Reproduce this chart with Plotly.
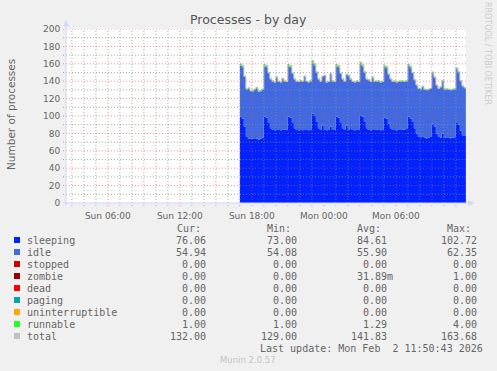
import plotly.graph_objects as go
import pandas as pd

# ---------------- data (10-minute samples, Sun 17:00 -> Mon 11:50) ----------------
times = pd.date_range("2026-02-01 17:00", periods=114, freq="10min")

sleeping = [
    99, 97, 88, 76, 74, 73.5,          # 17h
    74, 74.5, 74, 73, 74, 75,          # 18h
    99, 98, 92, 86, 84, 83.5,          # 19h
    84, 84, 83.5, 84, 84.5, 84,        # 20h
    99, 98, 92, 86, 84, 83.5,          # 21h
    84, 83.5, 84, 84, 83.5, 84,        # 22h
    102.72, 100, 93, 86, 84, 89,       # 23h
    84, 83.5, 84, 88, 84, 84,          # 00h
    99, 98, 92, 86, 84, 89,            # 01h
    84, 86, 84, 83.5, 84, 84,          # 02h
    101, 99, 93, 86, 84, 83.5,         # 03h
    84, 84, 84.5, 84, 83.5, 84,        # 04h
    98, 97, 91, 86, 84, 84,            # 05h
    83.5, 84, 84, 84.5, 84, 85,        # 06h
    99.5, 97, 93, 86, 80, 76,          # 07h
    75.5, 76, 75, 74.5, 75, 76,        # 08h
    91.5, 88, 80, 76, 75, 80,          # 09h
    75, 75.5, 75, 74.5, 75, 75.5,      # 10h
    92, 90, 83, 78, 77, 76.06,         # 11h
]
idle = [
    59, 59, 57, 54.5, 57.5, 55,
    54.1, 55.5, 58, 55, 54.5, 55,
    58, 58, 57, 56, 55.5, 55,
    60, 55, 55, 58.5, 55, 55,
    58, 58, 56.5, 56, 55, 55.5,
    56, 55.5, 61, 55, 55, 56,
    56.96, 58, 57, 56, 55, 56,
    62, 55, 55, 60, 55.5, 55,
    58, 58, 56.5, 56, 55, 58,
    62, 56, 55, 55, 55.5, 55,
    58, 58, 57, 56, 57, 55.5,
    60, 55, 55, 55.5, 55, 55,
    58, 58, 56.5, 56, 55, 55.5,
    55, 55, 55.5, 55, 55, 55,
    58, 58, 56, 55, 55, 55,
    55, 57.5, 55, 55, 55, 55,
    57, 56, 55, 55, 58, 60,
    55, 55, 55, 55, 55, 55,
    62.35, 60, 57, 56, 55, 54.94,
]
runnable = [
    2, 2, 1, 1, 1, 1,
    1, 1, 1, 1, 1, 1,
    2, 2, 1, 1, 1, 1,
    1, 1, 1, 1, 1, 1,
    2, 2, 1, 1, 1, 1,
    1, 1, 1, 1, 1, 1,
    4, 2, 1, 1, 1, 1,
    1, 1, 1, 1, 1, 1,
    2, 2, 1, 1, 1, 1,
    1, 1, 1, 1, 1, 1,
    3, 2, 1, 1, 1, 1,
    1, 1, 1, 1, 1, 1,
    2, 2, 1, 1, 1, 1,
    1, 1, 1, 1, 1, 1,
    2, 2, 1, 1, 1, 1,
    1, 1, 1, 1, 1, 1,
    2, 1, 1, 1, 1, 1,
    1, 1, 1, 1, 1, 1,
    1, 1, 1, 1, 1, 1,
]
stopped = [0] * 114
zombie = [0] * 114
dead = [0] * 114
paging = [0] * 114
uninterruptible = [0] * 114

series_names = ["sleeping", "idle", "stopped", "zombie", "dead", "paging",
                "uninterruptible", "runnable", "total"]
series_colors = ["#0022ff", "#4169e1", "#cc0000", "#990000", "#ff0000", "#00aaaa",
                 "#ffa500", "#22ff22", "#c0c0c0"]
cur_vals = ["76.06", "54.94", "0.00", "0.00", "0.00", "0.00", "0.00", "1.00", "132.00"]
min_vals = ["73.00", "54.08", "0.00", "0.00", "0.00", "0.00", "0.00", "1.00", "129.00"]
avg_vals = ["84.61", "55.90", "0.00", "31.89m", "0.00", "0.00", "0.00", "1.29", "141.83"]
max_vals = ["102.72", "62.35", "0.00", "1.00", "0.00", "0.00", "0.00", "4.00", "163.68"]

x_tick_vals = ["2026-02-01 06:00", "2026-02-01 12:00", "2026-02-01 18:00",
               "2026-02-02 00:00", "2026-02-02 06:00"]
x_tick_text = ["Sun 06:00", "Sun 12:00", "Sun 18:00", "Mon 00:00", "Mon 06:00"]
y_tick_vals = list(range(0, 201, 20))

x_start = "2026-02-01 02:30:43"
x_end = "2026-02-02 11:50:43"

total = [a + b + c + d + e + f + g + h for a, b, c, d, e, f, g, h in
         zip(sleeping, idle, stopped, zombie, dead, paging, uninterruptible, runnable)]

# ---------------- geometry helpers ----------------
W, H = 497, 371
L, R, T, B = 66, 466, 29, 203


def px(x):
    return (x - L) / (R - L)


def py(y):
    return (B - y) / (B - T)


FONT = "DejaVu Sans"
MONO = "DejaVu Sans Mono"
TXT = "#666666"

fig = go.Figure()
stack = [sleeping, idle, stopped, zombie, dead, paging, uninterruptible, runnable]
for name, vals, col in zip(series_names[:8], stack, series_colors[:8]):
    fig.add_trace(go.Scatter(x=times, y=vals, name=name, stackgroup="one",
                             mode="lines", line=dict(width=0, color=col, shape="hv"),
                             fillcolor=col, hoverinfo="skip"))
fig.add_trace(go.Scatter(x=times, y=total, name="total", mode="lines",
                         line=dict(color="#c0c0c0", width=1, shape="hv"),
                         hoverinfo="skip"))

shapes = []
major = "rgba(222,79,79,0.6)"
minor = "rgba(143,143,143,0.75)"
dash = "1px,2px"
for h in pd.date_range("2026-02-01 03:00", "2026-02-02 11:00", freq="1h"):
    shapes.append(dict(type="line", xref="x", yref="paper", x0=h, x1=h,
                       y0=-3 / (B - T), y1=1, layer="above",
                       line=dict(color=major if h.hour % 3 == 0 else minor,
                                 width=1, dash=dash)))
for v in range(10, 201, 10):
    shapes.append(dict(type="line", xref="paper", yref="y", x0=-3 / (R - L), x1=1,
                       y0=v, y1=v, layer="above",
                       line=dict(color=major if v % 20 == 0 else minor,
                                 width=1, dash=dash)))
axis_col = "#CFD6F8"
shapes.append(dict(type="line", xref="paper", yref="paper", x0=px(66), x1=px(66),
                   y0=py(205), y1=py(25), layer="above",
                   line=dict(color=axis_col, width=1)))
shapes.append(dict(type="line", xref="paper", yref="paper", x0=px(63), x1=px(469),
                   y0=py(203), y1=py(203), layer="above",
                   line=dict(color=axis_col, width=1)))
shapes.append(dict(type="path", xref="paper", yref="paper", layer="above",
                   path=f"M {px(63.5)} {py(26)} L {px(68.5)} {py(26)} L {px(66)} {py(20.5)} Z",
                   fillcolor=axis_col, line=dict(color=axis_col, width=0.5)))
shapes.append(dict(type="path", xref="paper", yref="paper", layer="above",
                   path=f"M {px(468.5)} {py(200.5)} L {px(468.5)} {py(205.5)} L {px(474)} {py(203)} Z",
                   fillcolor=axis_col, line=dict(color=axis_col, width=0.5)))

ann = []


def text(x, y, s, size=10, family=FONT, color=TXT, xanchor="left", angle=0):
    ann.append(dict(x=px(x), y=py(y), xref="paper", yref="paper", text=s,
                    showarrow=False, xanchor=xanchor, yanchor="middle",
                    textangle=angle, borderpad=0, borderwidth=0,
                    font=dict(family=family, size=size, color=color)))


text(248.5, 19.5, "Processes - by day", size=12.5, color="#555555", xanchor="center")
text(11, 114, "Number of processes", size=10.5, xanchor="center", angle=-90)
text(488, 53, "RRDTOOL / TOBI OETIKER", size=8, color="#cccccc",
     xanchor="center", angle=90)

for hdr, xr in zip(["Cur:", "Min:", "Avg:", "Max:"], [201, 291, 381, 471]):
    text(xr, 228, hdr, size=10, family=MONO, xanchor="right")

cols = [cur_vals, min_vals, avg_vals, max_vals]
col_right = [206, 297, 387, 477]
for i, name in enumerate(series_names):
    yy = 240 + 12 * i
    shapes.append(dict(type="rect", xref="paper", yref="paper",
                       x0=px(14), x1=px(20), y0=py(yy - 3), y1=py(yy + 3),
                       fillcolor=series_colors[i], line=dict(width=0)))
    text(26.5, yy, name, size=10, family=MONO)
    for c, xr in zip(cols, col_right):
        s = c[i]
        shift = 6 if s.endswith("m") else 0
        text(xr + shift, yy, s, size=10, family=MONO, xanchor="right")

text(482.5, 348, "Last update: Mon Feb&nbsp;&nbsp;2 11:50:43 2026", size=10,
     family=MONO, xanchor="right")
text(248, 360, "Munin 2.0.57", size=8.5, color="#c4c4c4", xanchor="center")

fig.update_layout(
    width=W, height=H,
    margin=dict(l=L, r=W - R, t=T, b=H - B, pad=0),
    paper_bgcolor="#f0f0f0", plot_bgcolor="#ffffff",
    showlegend=False,
    shapes=shapes, annotations=ann,
    xaxis=dict(type="date", range=[x_start, x_end], showgrid=False, zeroline=False,
               showline=False, tickmode="array", tickvals=x_tick_vals,
               ticktext=x_tick_text, ticks="outside", ticklen=4,
               tickcolor="rgba(0,0,0,0)",
               tickfont=dict(family=FONT, size=9, color=TXT), fixedrange=True),
    yaxis=dict(range=[0, 200], showgrid=False, zeroline=False, showline=False,
               tickmode="array", tickvals=y_tick_vals, ticks="outside", ticklen=3,
               tickcolor="rgba(0,0,0,0)",
               tickfont=dict(family=FONT, size=9, color=TXT), fixedrange=True),
)

fig.write_html(
    "out.html",
    config={"displayModeBar": False, "staticPlot": True},
    post_script="document.body.style.margin='0';document.body.style.overflow='hidden';"
                "document.body.style.background='#f0f0f0';",
)
